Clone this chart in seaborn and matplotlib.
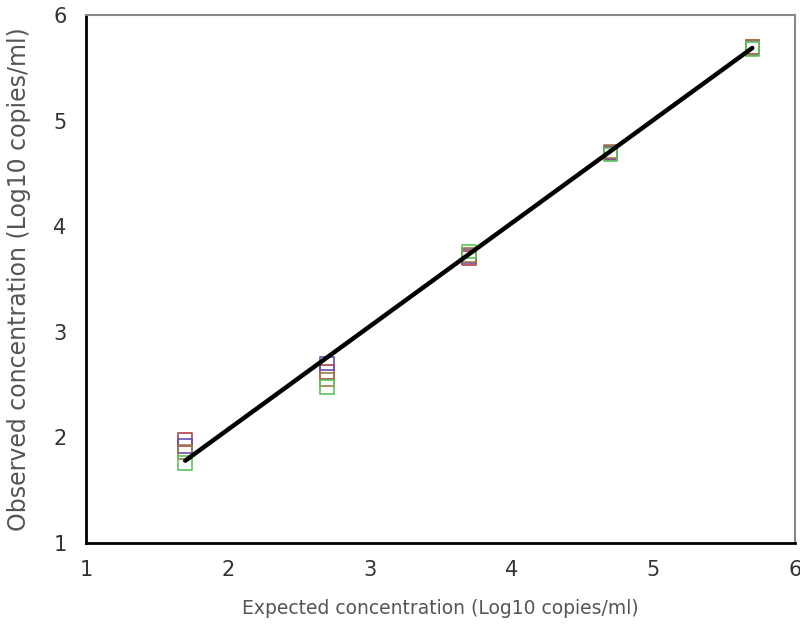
import numpy as np
import pandas as pd
import seaborn as sns
import matplotlib.pyplot as plt

# expected concentrations (log10 copies/ml)
expected = [1.7, 2.7, 3.7, 4.7, 5.7]

# observed values per replicate run
run_a = [1.98, 2.62, 3.70, 4.70, 5.70]
run_b = [1.92, 2.70, 3.72, 4.69, 5.69]
run_c = [1.86, 2.55, 3.73, 4.71, 5.70]
run_d = [1.76, 2.48, 3.76, 4.68, 5.68]
run_names = ['A', 'B', 'C', 'D']

# regression line end points
fit_x = [1.7, 5.7]
fit_y = [1.78, 5.69]

rows = []
for name, vals in zip(run_names, [run_a, run_b, run_c, run_d]):
    for x, y in zip(expected, vals):
        rows.append({'Expected': x, 'Observed': y, 'Run': name})
df = pd.DataFrame(rows)

sns.set_style('white')
plt.rcParams['font.family'] = ['DejaVu Sans']

fig = plt.figure(figsize=(8, 6.37), dpi=100)
ax = fig.add_axes([0.1075, 0.1476, 0.886, 0.8284])

palette = {'A': '#b0404a', 'B': '#6a4fa8', 'C': '#a07a48', 'D': '#5cc45c'}
for name in run_names:
    sub = df[df['Run'] == name]
    ax.scatter(sub['Expected'], sub['Observed'], marker='s', s=95,
               facecolors='none', edgecolors=palette[name], linewidths=1.2, zorder=3)

sns.lineplot(x=fit_x, y=fit_y, color='black', linewidth=3.2, ax=ax, zorder=4)

ax.set_xlim(1, 6)
ax.set_ylim(1, 6)
ax.set_xticks([1, 2, 3, 4, 5, 6])
ax.set_yticks([1, 2, 3, 4, 5, 6])
ax.tick_params(axis='x', direction='out', length=4, width=2, color='black',
               labelsize=15, labelcolor='#333333', pad=8)
ax.tick_params(axis='y', direction='out', length=4, width=2, color='black',
               labelsize=15, labelcolor='#333333', pad=10)
ax.set_xlabel('Expected concentration (Log10 copies/ml)', fontsize=13.5, color='#555555', labelpad=14)
ax.set_ylabel('Observed concentration (Log10 copies/ml)', fontsize=17, color='#555555', labelpad=16)

for side in ['left', 'bottom']:
    ax.spines[side].set_color('black')
    ax.spines[side].set_linewidth(2)
for side in ['top', 'right']:
    ax.spines[side].set_color('#888888')
    ax.spines[side].set_linewidth(1.5)

fig.savefig('out.png', dpi=100)
plt.close('all')
